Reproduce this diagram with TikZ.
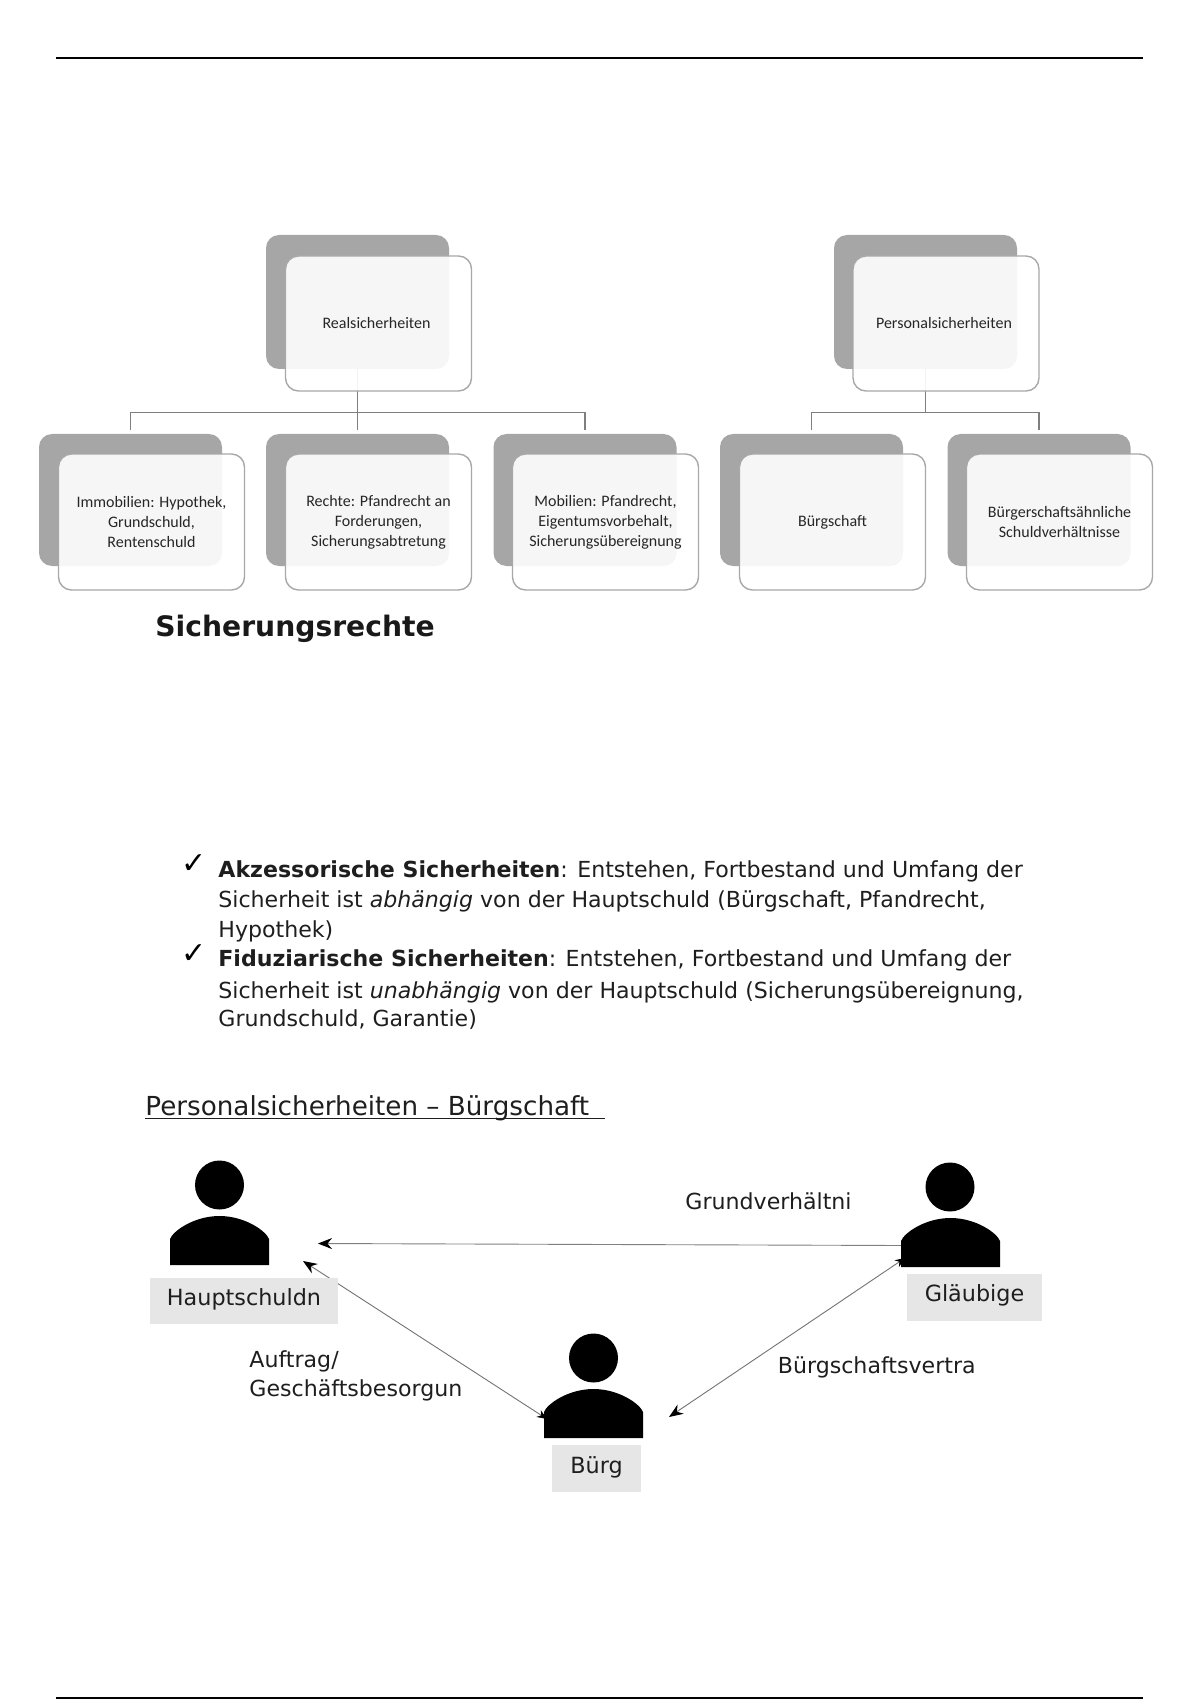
\documentclass[tikz,border=0pt]{standalone}
\usepackage{fontspec}
\setmainfont{DejaVu Sans}
\newfontfamily\boxfont{Carlito}
\usetikzlibrary{arrows.meta,calc}
\definecolor{shadowgray}{HTML}{A6A6A6}
\definecolor{edgegray}{HTML}{A8A8A8}
\definecolor{linkgray}{HTML}{7F7F7F}
\definecolor{labelgray}{HTML}{E6E6E6}
\definecolor{inktext}{HTML}{1E1E1E}
\tikzset{
  x=0.5pt,y=-0.5pt,
  backcard/.style={fill=shadowgray,rounded corners=6.5pt,minimum width=91.5pt,inner sep=0pt},
  frontcard/.style={draw=edgegray,line width=0.7pt,fill=white,fill opacity=0.9,text opacity=1,rounded corners=6.5pt,minimum width=93pt,inner sep=0pt,align=center,font=\boxfont\fontsize{8}{10}\selectfont,text=black!85},
  tophi/.style={minimum height=67pt},
  rowhi/.style={minimum height=66pt},
  frontrow/.style={minimum height=68pt},
  frontup/.style={minimum height=67.5pt},
  link/.style={draw=linkgray,line width=0.7pt},
  rel/.style={draw=black!50,line width=0.45pt,{Stealth[length=7pt,width=5.5pt,black]}-},
  relboth/.style={draw=black!55,line width=0.45pt,{Stealth[length=7pt,width=5.5pt,black]}-{Stealth[length=5pt,width=4pt,black]}},
  body/.style={font=\fontsize{11.05}{13}\selectfont,anchor=base west,inner sep=0pt,text=inktext},
  role/.style={fill=labelgray,inner sep=0pt,font=\fontsize{11.15}{13}\selectfont,text=inktext},
  head/.style={circle,fill=black,inner sep=0pt,minimum size=24.5pt},
  check/.style={font=\fontsize{15}{15}\selectfont,anchor=center,inner sep=0pt}
}
\newcommand{\torso}[2]{% left x, bottom y
  \begin{scope}[shift={(#1,#2)}]
  \fill[black] (0,0) -- (0,-26) .. controls (3,-34) and (24,-49) .. (49.5,-49)
    .. controls (75,-49) and (96,-34) .. (99,-26) -- (99,0) -- cycle;
  \end{scope}
}
\begin{document}
\begin{tikzpicture}
\useasboundingbox (0,0) rectangle (1200,1700);
\draw[black,line width=0.75pt] (56,58) coordinate (tl) -- (1143,58) coordinate (tr);
\draw[black,line width=0.75pt] (56,1698) coordinate (bl) -- (1143,1698) coordinate (br);

% back cards
\node[backcard,tophi] (realB) at (357.5,302) {};
\node[backcard,tophi] (persB) at (925.5,302) {};
\node[backcard,rowhi] (immB) at (130.5,500) {};
\node[backcard,rowhi] (recB) at (357.5,500) {};
\node[backcard,rowhi] (mobB) at (585,500) {};
\node[backcard,rowhi] (buerB) at (811.5,500) {};
\node[backcard,rowhi] (aehnB) at (1039,500) {};

% tree connectors
\draw[link] (realB.south) -- ++(0,43) coordinate (realJ);
\draw[link,shorten >=2pt] (realJ) -| (immB.north);
\draw[link,shorten >=2pt] (realJ) -- (recB.north);
\draw[link,shorten >=2pt] (realJ) -| (mobB.north);
\draw[link] (persB.south) -- ++(0,43) coordinate (persJ);
\draw[link,shorten >=2pt] (persJ) -| (buerB.north);
\draw[link,shorten >=2pt] (persJ) -| (aehnB.north);

% front cards
\node[frontcard,frontup] (real) at (378.5,323.5) {Realsicherheiten\hspace*{2pt}};
\node[frontcard,frontup] (pers) at (946,323.5) {Personalsicherheiten\hspace*{2pt}};
\node[frontcard,frontrow] (imm) at (151.5,522) {Immobilien: Hypothek,\\Grundschuld,\\Rentenschuld};
\node[frontcard,frontrow] (rec) at (378.5,522) {Rechte: Pfandrecht an\\Forderungen,\\Sicherungsabtretung};
\node[frontcard,frontrow] (mob) at (605.5,522) {Mobilien: Pfandrecht,\\Eigentumsvorbehalt,\\Sicherungsübereignung};
\node[frontcard,frontrow] (buer) at (832.5,522) {Bürgschaft};
\node[frontcard,frontrow] (aehn) at (1059.5,522) {Bürgerschaftsähnliche\\Schuldverhältnisse};

\node[font=\bfseries\fontsize{14.1}{16}\selectfont,anchor=base west,inner sep=0pt,text=black!90] (sich) at (155,636) {Sicherungsrechte};

% list
\node[check] (c1) at (194,864) {✓};
\node[body] (l1) at (218,877) {\textbf{Akzessorische Sicherheiten}: Entstehen, Fortbestand und Umfang der};
\node[body] (l2) at (218,907) {Sicherheit ist \textit{abhängig} von der Hauptschuld (Bürgschaft, Pfandrecht,};
\node[body] (l3) at (218,937) {Hypothek)};
\node[check] (c2) at (194,954) {✓};
\node[body] (l4) at (218,966) {\textbf{Fiduziarische Sicherheiten}: Entstehen, Fortbestand und Umfang der};
\node[body] (l5) at (218,998) {Sicherheit ist \textit{unabhängig} von der Hauptschuld (Sicherungsübereignung,};
\node[body] (l6) at (218,1026) {Grundschuld, Garantie)};

\node[body,font=\fontsize{13.1}{15}\selectfont] (title) at (145,1115) {\rlap{\rule[-1.9pt]{230pt}{0.55pt}}Personalsicherheiten – Bürgschaft};

% relations
\coordinate (hsA) at (318,1243.5);
\coordinate (hsB) at (303,1261);
\coordinate (glA) at (904,1245.5);
\coordinate (glB) at (905,1258);
\coordinate (buA) at (547,1419);
\coordinate (buB) at (669,1417);
\draw[rel] (hsA) -- (glA);
\draw[relboth] (hsB) -- (buA);
\draw[relboth] (buB) -- (glB);

% persons
\node[head] (h1) at (219.5,1185) {};
\torso{170}{1265}
\node[head] (h2) at (950,1187) {};
\torso{901}{1267}
\node[head] (h3) at (593.5,1358) {};
\torso{544}{1438}

\node[role,minimum width=94pt,minimum height=23pt] (r1) at (244,1301) {\raisebox{4pt}{Hauptschuldn}};
\node[role,minimum width=67.5pt,minimum height=23.5pt] (r2) at (974.5,1297.5) {\raisebox{4pt}{Gläubige}};
\node[role,minimum width=44.5pt,minimum height=23.5pt] (r3) at (596.5,1468.5) {\raisebox{3.5pt}{Bürg}};

\node[body] (t1) at (685,1209.5) {Grundverhältni};
\node[body] (t2) at (777.5,1373) {Bürgschaftsvertra};
\node[body] (t3) at (249,1367) {Auftrag/};
\node[body] (t4) at (249,1396) {Geschäftsbesorgun};
\end{tikzpicture}
\end{document}
